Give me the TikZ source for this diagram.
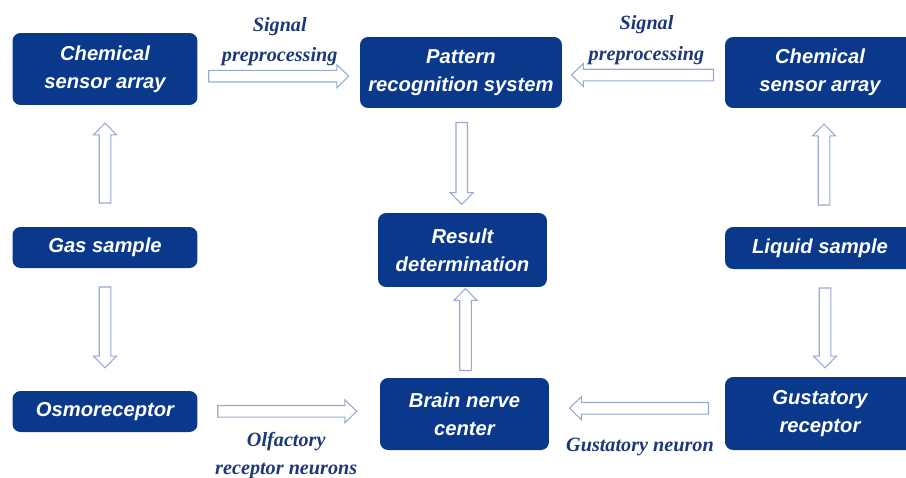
\documentclass[tikz,border=0pt]{standalone}
\usepackage{fontspec}
\setmainfont{Liberation Serif}
\newfontfamily\boxfont{Liberation Sans}
\usetikzlibrary{shapes.arrows, positioning}

\definecolor{navybox}{RGB}{10,57,140}
\definecolor{labelblue}{RGB}{28,56,118}
\definecolor{arrowline}{RGB}{150,170,212}

\begin{document}
\begin{tikzpicture}[
    x=0.02cm, y=-0.02cm,
    % --- Dark Blue Blocks ---
    block/.style={
        draw=none,
        fill=navybox,
        rounded corners=0.16cm,
        align=center,
        text=white,
        inner sep=0pt,
        font=\boxfont\bfseries\itshape\fontsize{11.5}{16}\selectfont
    },
    % --- Hollow Block Arrows ---
    hollow arrow/.style={
        single arrow,
        draw=arrowline,
        fill=white,
        line width=0.6pt,
        inner sep=0.105cm,
        single arrow head extend=0.115cm,
        single arrow tip angle=88,
        single arrow head indent=0pt,
        midway
    },
    % --- Arrow Captions ---
    caption text/.style={
        align=center,
        text=labelblue,
        inner sep=1pt,
        font=\bfseries\itshape\fontsize{11.5}{17.5}\selectfont
    }
]

    \clip (0,0) rectangle (906,477);

    % =========================================
    % 1. BLOCKS
    % =========================================

    % Left column (gas)
    \node[block, minimum width=3.7cm, minimum height=1.44cm] (chemL) at (105,69) {Chemical\\sensor array};
    \node[block, minimum width=3.7cm, minimum height=0.82cm] (gas) at (105,247.5) {Gas sample};
    \node[block, minimum width=3.7cm, minimum height=0.82cm] (osmo) at (105,411.5) {Osmoreceptor};

    % Middle column
    \node[block, minimum width=4.04cm, minimum height=1.42cm] (pattern) at (461,72.5) {Pattern\\recognition system};
    \node[block, minimum width=3.38cm, minimum height=1.48cm] (result) at (462.5,250) {Result\\determination};
    \node[block, minimum width=3.38cm, minimum height=1.44cm] (brain) at (464.5,414) {Brain nerve\\center};

    % Right column (liquid), runs off the right edge
    \node[block, minimum width=3.8cm, minimum height=1.42cm] (chemR) at (820,72.5) {Chemical\\sensor array};
    \node[block, minimum width=3.8cm, minimum height=0.84cm] (liquid) at (820,248) {Liquid sample};
    \node[block, minimum width=3.8cm, minimum height=1.46cm] (gust) at (820,413.5) {Gustatory\\receptor};

    % =========================================
    % 2. ARROWS
    % =========================================

    % Top row
    \path (chemL) -- (pattern) node[hollow arrow, minimum height=2.8cm, xshift=-0.06cm, yshift=-0.11cm] (sigL) {};
    \path (chemR) -- (pattern) node[hollow arrow, minimum height=2.84cm, xshift=0.04cm, yshift=-0.05cm, rotate=180] (sigR) {};

    % Vertical arrows
    \path (gas) -- (chemL) node[hollow arrow, minimum height=1.6cm, rotate=90] (upL) {};
    \path (gas) -- (osmo) node[hollow arrow, minimum height=1.62cm, yshift=0.1cm, rotate=-90] (downL) {};
    \path (pattern) -- (result) node[hollow arrow, minimum height=1.64cm, rotate=-90] (downM) {};
    \path (brain) -- (result) node[hollow arrow, minimum height=1.64cm, xshift=0.04cm, rotate=90] (upM) {};
    \path (liquid) -- (chemR) node[hollow arrow, minimum height=1.62cm, xshift=0.08cm, rotate=90] (upR) {};
    \path (liquid) -- (gust) node[hollow arrow, minimum height=1.6cm, xshift=0.1cm, yshift=-0.04cm, rotate=-90] (downR) {};

    % Bottom row
    \path (osmo) -- (brain) node[hollow arrow, minimum height=2.78cm, xshift=-0.09cm, yshift=0.03cm] (olf) {};
    \path (gust) -- (brain) node[hollow arrow, minimum height=2.78cm, xshift=0.1cm, yshift=0.11cm, rotate=180] (gus) {};

    % =========================================
    % 3. CAPTIONS
    % =========================================
    \node[caption text, anchor=south, xshift=0.08cm] (capL) at ([yshift=0.16cm]sigL.center) {Signal\\preprocessing};
    \node[caption text, anchor=south, xshift=0.02cm] (capR) at ([yshift=0.16cm]sigR.center) {Signal\\preprocessing};
    \node[caption text, anchor=north, xshift=0.04cm, font=\bfseries\itshape\fontsize{11.5}{16}\selectfont] (capO) at ([yshift=-0.37cm]olf.center) {Olfactory\\receptor neurons};
    \node[caption text, anchor=north, xshift=-0.04cm] (capG) at ([yshift=-0.56cm]gus.center) {Gustatory neuron};

\end{tikzpicture}
\end{document}
